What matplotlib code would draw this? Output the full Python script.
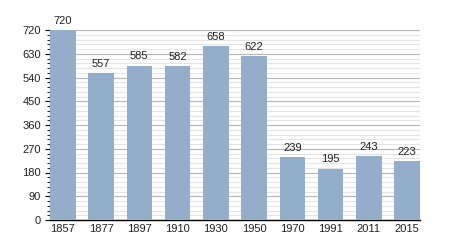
import matplotlib.pyplot as plt
import numpy as np

years = ["1857", "1877", "1897", "1910", "1930", "1950", "1970", "1991", "2011", "2015"]
population = [720, 557, 585, 582, 658, 622, 239, 195, 243, 223]

plt.rcParams['font.family'] = ['Liberation Sans', 'DejaVu Sans']

fig = plt.figure(figsize=(4.5, 2.5), dpi=100)
ax = fig.add_axes([50 / 450, 30 / 250, 370 / 450, 190 / 250])

x = np.arange(len(years))
width = 0.67
bars = ax.bar(x, population, width=width, color='#93aecb', zorder=3)
for xi, v in zip(x, population):
    ax.annotate(str(v), (xi, v), xytext=(0, 3), textcoords='offset points',
                ha='center', va='bottom', fontsize=8, color='#222222')

ax.set_xlim(-width / 2, len(years) - 1 + width / 2)
ax.set_ylim(0, 720)
ax.set_yticks(np.arange(0, 721, 90))
ax.set_yticks(np.arange(0, 721, 18), minor=True)
ax.set_xticks(x)
ax.set_xticklabels(years)

ax.grid(axis='y', which='major', color='#b4b4b4', linewidth=0.8, zorder=0)
ax.grid(axis='y', which='minor', color='#e4e4e4', linewidth=0.8, zorder=0)

for s in ['top', 'right']:
    ax.spines[s].set_visible(False)
ax.spines['left'].set_linewidth(0.8)
ax.spines['bottom'].set_linewidth(1.0)

ax.tick_params(axis='x', length=0, labelsize=8, pad=3, labelcolor='#222222')
ax.tick_params(axis='y', which='major', length=3.5, labelsize=8, pad=3, labelcolor='#222222')
ax.tick_params(axis='y', which='minor', length=2)

fig.savefig("out.png", dpi=100)
